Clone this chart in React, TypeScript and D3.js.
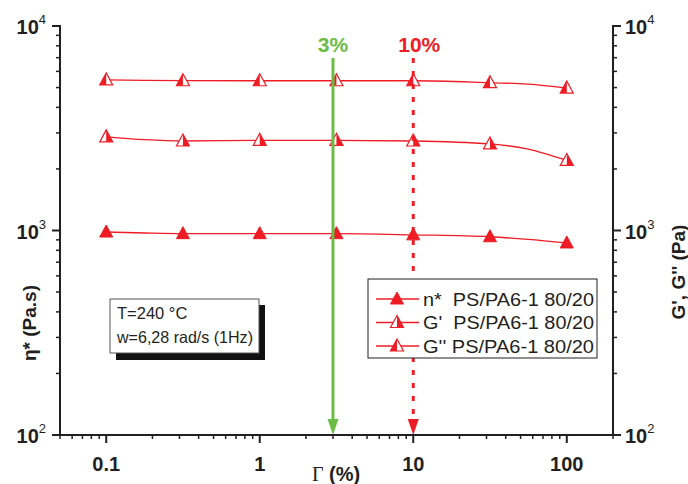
import React from "react";
import * as d3 from "d3";

const xLine = [0.1, 0.178, 0.316, 1, 3.16, 10, 31.6, 56, 100];
const marked = [true, false, true, true, true, true, true, false, true];
const etaStar = [983, 972, 965, 965, 965, 952, 932, 905, 869];
const gPrime = [2870, 2780, 2740, 2760, 2760, 2740, 2650, 2500, 2200];
const gDouble = [5450, 5420, 5400, 5400, 5400, 5400, 5280, 5200, 4970];
const xTicks = [0.1, 1, 10, 100];
const yTicks = [100, 1000, 10000];
const legendLabels = ["n*  PS/PA6-1 80/20", "G'  PS/PA6-1 80/20", "G'' PS/PA6-1 80/20"];
const annotation = ["T=240 °C", "w=6,28 rad/s (1Hz)"];

const W = 688, H = 484;
const L = 60, R = 613, T = 26, B = 435;
const RED = "#ee1c25";
const GREEN = "#6cbd45";
const INK = "#231f20";

function Tri({ cx, cy, mode }: { cx: number; cy: number; mode: "full" | "left" | "right" }) {
  const h = 6.5, top = cy - 7, bot = cy + 5;
  const outline = `M${cx},${top}L${cx + h},${bot}L${cx - h},${bot}Z`;
  const leftHalf = `M${cx},${top}L${cx},${bot}L${cx - h},${bot}Z`;
  const rightHalf = `M${cx},${top}L${cx + h},${bot}L${cx},${bot}Z`;
  if (mode === "full") return <path d={outline} fill={RED} stroke={RED} strokeWidth={1} />;
  return (
    <g>
      <path d={outline} fill="#fff" stroke={RED} strokeWidth={1.2} />
      <path d={mode === "left" ? leftHalf : rightHalf} fill={RED} />
    </g>
  );
}

export default function App() {
  const x = d3.scaleLog().domain([0.05, 200]).range([L, R]);
  const y = d3.scaleLog().domain([100, 10000]).range([B, T]);
  const line = d3.line<number>().x((_, i) => x(xLine[i])).y((v) => y(v)).curve(d3.curveMonotoneX);

  const xMinor: number[] = [];
  for (let e = -2; e <= 2; e++) for (let k = 1; k <= 9; k++) {
    const v = k * Math.pow(10, e);
    if (v >= 0.05 && v <= 200 && k !== 1) xMinor.push(v);
  }
  const yMinor: number[] = [];
  for (let e = 2; e <= 3; e++) for (let k = 2; k <= 9; k++) yMinor.push(k * Math.pow(10, e));

  const series = [
    { vals: etaStar, mode: "full" as const },
    { vals: gPrime, mode: "right" as const },
    { vals: gDouble, mode: "left" as const },
  ];

  const sans = "Arial, 'Liberation Sans', sans-serif";

  return (
    <svg width={W} height={H} style={{ position: "absolute", left: 0, top: 0 }} fontFamily={sans}>
      <rect width={W} height={H} fill="#fff" />
      {/* series */}
      {series.map((s, si) => (
        <g key={si}>
          <path d={line(s.vals) || ""} fill="none" stroke={RED} strokeWidth={1.3} />
          {s.vals.map((v, i) => marked[i] ? <Tri key={i} cx={x(xLine[i])} cy={y(v)} mode={s.mode} /> : null)}
        </g>
      ))}
      {/* green arrow 3% */}
      <line x1={x(3)} x2={x(3)} y1={58} y2={B - 14} stroke={GREEN} strokeWidth={3} />
      <path d={`M${x(3) - 5.5},${B - 16}L${x(3) + 5.5},${B - 16}L${x(3)},${B}Z`} fill={GREEN} />
      <text x={x(3)} y={52} textAnchor="middle" fontSize={21} fontWeight="bold" fill={GREEN}>3%</text>
      {/* red dotted arrow 10% */}
      <line x1={x(10)} x2={x(10)} y1={58} y2={B - 16} stroke={RED} strokeWidth={3} strokeDasharray="5,8" />
      <path d={`M${x(10) - 5.5},${B - 16}L${x(10) + 5.5},${B - 16}L${x(10)},${B}Z`} fill={RED} />
      <text x={x(10) + 6} y={52} textAnchor="middle" fontSize={21} fontWeight="bold" fill={RED}>10%</text>

      {/* annotation box */}
      <rect x={116} y={305} width={149} height={55} fill="#111" />
      <rect x={110} y={299} width={149} height={54} fill="#fff" stroke="#555" strokeWidth={1} />
      <text x={117} y={319} fontSize={16.5} fill={INK}>{annotation[0]}</text>
      <text x={117} y={343} fontSize={16.5} fill={INK} textLength={136} lengthAdjust="spacingAndGlyphs">{annotation[1]}</text>

      {/* legend */}
      <rect x={368} y={279} width={229} height={79} fill="#fff" stroke={INK} strokeWidth={1} />
      {series.map((s, i) => {
        const cy = 299 + i * 23.5;
        return (
          <g key={i}>
            <line x1={376} x2={419} y1={cy} y2={cy} stroke={RED} strokeWidth={1.3} />
            <Tri cx={397} cy={cy} mode={s.mode} />
            <text x={423} y={cy + 6.5} fontSize={18} fill={INK} textLength={171} lengthAdjust="spacingAndGlyphs" style={{ whiteSpace: "pre" }}>{legendLabels[i]}</text>
          </g>
        );
      })}

      {/* axes */}
      <g stroke={INK} strokeWidth={2}>
        <line x1={L} x2={R} y1={B} y2={B} />
        <line x1={L} x2={L} y1={T - 1} y2={B + 1} />
        <line x1={R} x2={R} y1={T - 1} y2={B + 1} />
        {xTicks.map((v) => <line key={v} x1={x(v)} x2={x(v)} y1={B} y2={B + 8} />)}
        {xMinor.map((v) => <line key={"m" + v} x1={x(v)} x2={x(v)} y1={B} y2={B + 4} strokeWidth={1.5} />)}
        {yTicks.map((v) => (
          <g key={v}>
            <line x1={L - 8} x2={L} y1={y(v)} y2={y(v)} />
            <line x1={R} x2={R + 8} y1={y(v)} y2={y(v)} />
          </g>
        ))}
        {yMinor.map((v) => (
          <g key={"m" + v}>
            <line x1={L - 4} x2={L} y1={y(v)} y2={y(v)} strokeWidth={1.5} />
            <line x1={R} x2={R + 4} y1={y(v)} y2={y(v)} strokeWidth={1.5} />
          </g>
        ))}
      </g>
      {xTicks.map((v) => (
        <text key={v} x={x(v)} y={471} textAnchor="middle" fontSize={20} fontWeight="bold" fill={INK}>{v}</text>
      ))}
      {yTicks.map((v) => {
        const e = Math.round(Math.log10(v));
        return (
          <g key={v}>
            <text x={L - 14} y={y(v) + 8} textAnchor="end" fontSize={20} fontWeight="bold" fill={INK}>
              10<tspan fontSize={13} fontWeight="normal" dy={-10}>{e}</tspan>
            </text>
            <text x={R + 12} y={y(v) + 8} textAnchor="start" fontSize={20} fontWeight="bold" fill={INK}>
              10<tspan fontSize={13} fontWeight="normal" dy={-10}>{e}</tspan>
            </text>
          </g>
        );
      })}
      {/* axis titles */}
      <text x={336} y={481} textAnchor="middle" fontSize={20} fontWeight="bold" fill={INK}>
        <tspan fontFamily="'Liberation Serif', 'Times New Roman', serif" fontWeight="normal">Γ</tspan> (%)
      </text>
      <text transform={`translate(36,323) rotate(-90)`} textAnchor="middle" fontSize={19} fontWeight="bold" fill={INK}>
        η* (Pa.s)
      </text>
      <text transform={`translate(685,272) rotate(-90)`} textAnchor="middle" fontSize={19} fontWeight="bold" fill={INK}>
        G', G'' (Pa)
      </text>
    </svg>
  );
}
